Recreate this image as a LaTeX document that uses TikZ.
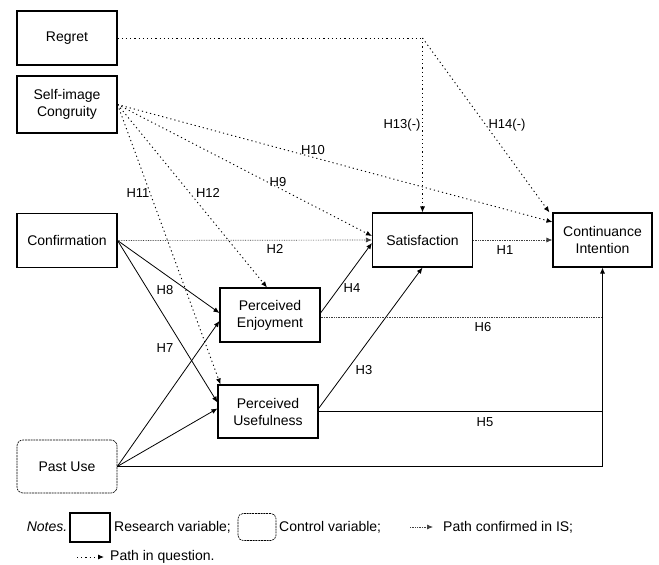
\documentclass[tikz,border=0pt]{standalone}
\usepackage{fontspec}
\setmainfont{Liberation Sans}
\usetikzlibrary{arrows.meta, positioning}

\begin{document}
\begin{tikzpicture}[x=1pt, y=-1pt,
    box/.style={draw, line width=1.1pt, minimum width=100pt, minimum height=54pt,
                align=center, inner sep=2pt, font=\fontsize{14}{17}\selectfont},
    ctrlbox/.style={box, line width=0.6pt, dash pattern=on 2pt off 0.8pt,
                    rounded corners=6pt},
    hyp/.style={inner sep=1pt, font=\fontsize{13}{15}\selectfont},
    note/.style={inner sep=0pt, font=\fontsize{14}{16}\selectfont},
    tip/.style={-{Latex[length=6pt,width=5pt]}},
    solidpath/.style={line width=0.8pt},
    confirmed/.style={line width=0.7pt, densely dotted, black!75},
    question/.style={line width=0.9pt, dash pattern=on 1.2pt off 3pt}]
  \useasboundingbox (0,0) rectangle (659,565);

  % Constructs
  \node[box] (regret) at (67,38) {Regret};
  \node[box, minimum height=57pt] (sic) at (67,104.5) {Self-image\\Congruity};
  \node[box] (conf) at (67,240.5) {Confirmation};
  \node[box] (pe) at (270,315) {Perceived\\Enjoyment};
  \node[box, minimum height=53pt] (pu) at (268,411.5) {Perceived\\Usefulness};
  \node[box] (sat) at (422.5,240) {Satisfaction};
  \node[box, minimum width=99pt] (ci) at (602.5,240) {Continuance\\Intention};
  \node[ctrlbox, minimum height=53pt] (past) at (67,466.5) {Past Use};

  % Regret paths (H13, H14)
  \coordinate (turn) at (sat.north |- regret.east);
  \draw[question] (regret.east) -- (turn);
  \draw[question, tip] (turn) -- (sat.north);
  \draw[question, tip] (turn) -- ([xshift=-3pt]ci.north west);

  % Self-image congruity paths (H9 -- H12)
  \draw[question, tip] (sic.east) -- ([yshift=18pt]ci.west);
  \draw[question, tip] (sic.east) -- ([yshift=4pt]sat.west);
  \draw[question, tip] (sic.east) -- ([xshift=-3pt]pe.north);
  \draw[question, tip] (sic.east) -- ([xshift=3pt]pu.north west);

  % Paths confirmed in IS
  \draw[confirmed, tip] (conf.east) -- (sat.west);
  \draw[confirmed, tip] (sat.east) -- (ci.west);
  \draw[confirmed] ([yshift=-2pt]pe.east) -- ([yshift=-2pt]pe.east -| ci.south);

  % Confirmation, enjoyment and usefulness paths
  \draw[solidpath, tip] (conf.east) -- ([yshift=2pt]pe.west);
  \draw[solidpath, tip] (conf.east) -- ([yshift=9pt]pu.west);
  \draw[solidpath, tip] ([yshift=2pt]pe.east) -- ([yshift=-3pt]sat.west);
  \draw[solidpath, tip] ([yshift=3pt]pu.east) -- (sat.south);
  \draw[solidpath] (pu.east) -- (pu.east -| ci.south);

  % Past use (control)
  \draw[solidpath, tip] (past.east) -- ([yshift=-6pt]pe.west);
  \draw[solidpath, tip] (past.east) -- ([yshift=3pt]pu.west);
  \draw[solidpath, tip] (past.east) -| (ci.south);

  % Hypothesis labels
  \node[hyp] (h13) at (402,125) {H13(-)};
  \node[hyp] (h14) at (507,125) {H14(-)};
  \node[hyp] (h10) at (313,150) {H10};
  \node[hyp] (h9) at (278,182) {H9};
  \node[hyp] (h12) at (208,193) {H12};
  \node[hyp] (h11) at (138,193) {H11};
  \node[hyp] (h2) at (275,249) {H2};
  \node[hyp] (h1) at (505,250) {H1};
  \node[hyp] (h8) at (165,290) {H8};
  \node[hyp] (h4) at (352,288) {H4};
  \node[hyp] (h6) at (483,327) {H6};
  \node[hyp] (h7) at (165,348) {H7};
  \node[hyp] (h3) at (364,370) {H3};
  \node[hyp] (h5) at (485,422) {H5};

  % Legend
  \node[note, font=\itshape\fontsize{14}{16}\selectfont] (notes) at (47,527) {Notes.};
  \node[draw, line width=1.1pt, minimum width=40pt, minimum height=29pt] (keyres) at (90,527.5) {};
  \node[note, anchor=west] (txtres) at (114,527) {Research variable;};
  \node[draw, line width=0.6pt, dash pattern=on 2pt off 0.8pt, rounded corners=5pt,
        minimum width=38pt, minimum height=27pt] (keyctrl) at (257,527) {};
  \node[note, anchor=west] (txtctrl) at (279,527) {Control variable;};
  \node[note, anchor=west] (txtconf) at (443,527) {Path confirmed in IS;};
  \coordinate (confstart) at (410,527);
  \draw[confirmed, tip] (confstart) -- ([xshift=-10pt]txtconf.west);
  \node[note, anchor=west] (txtq) at (110,557) {Path in question.};
  \coordinate (qstart) at (77,557);
  \draw[question, tip] (qstart) -- ([xshift=-6pt]txtq.west);
\end{tikzpicture}
\end{document}
